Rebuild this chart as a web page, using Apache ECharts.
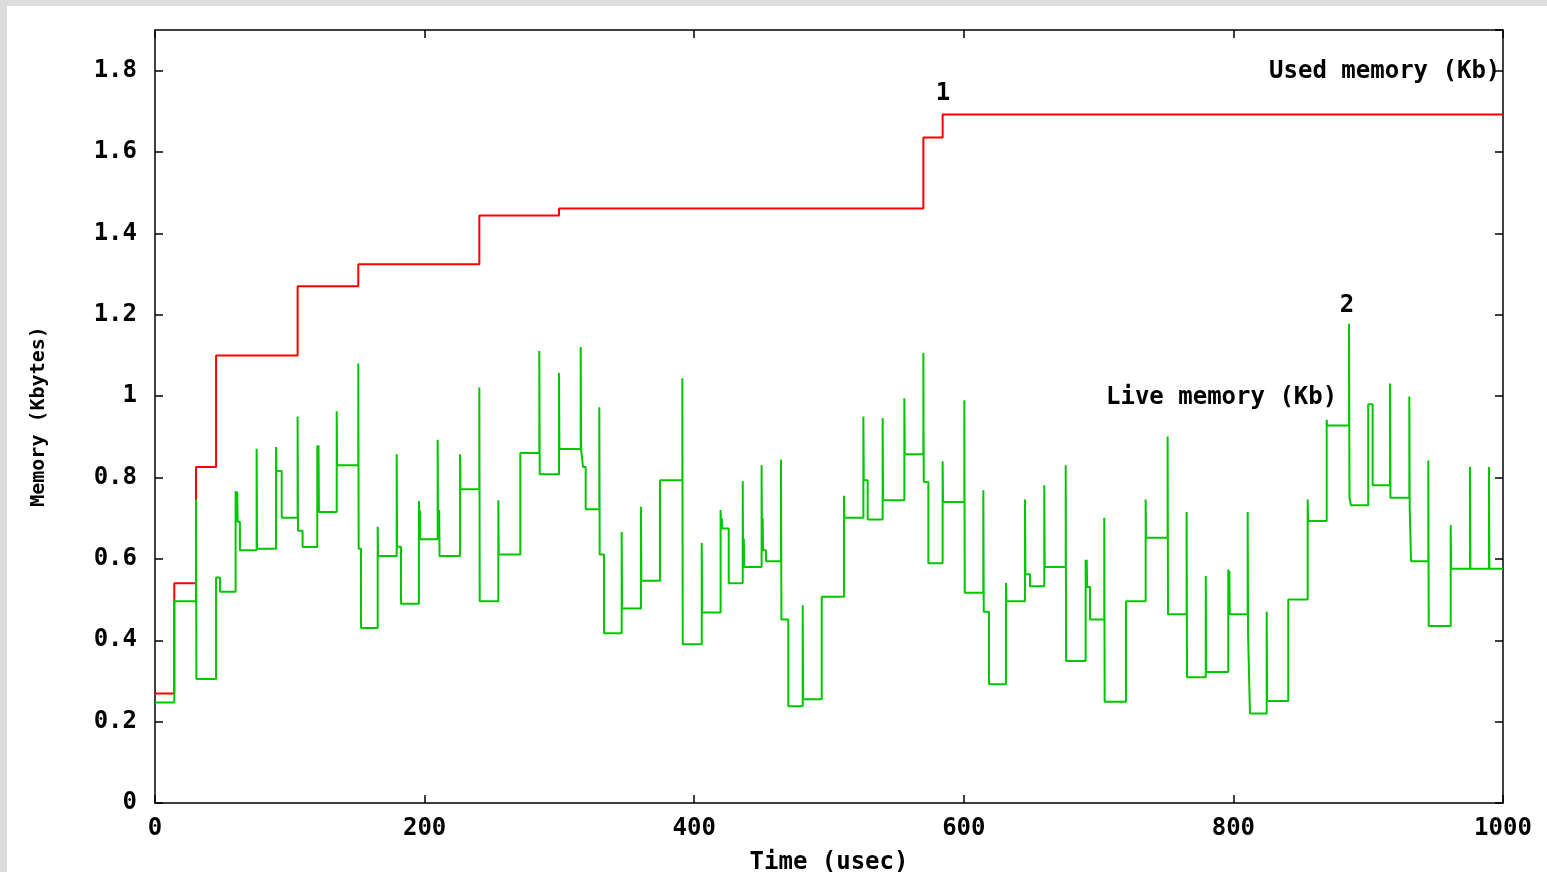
<!DOCTYPE html>
<html>
<head>
<meta charset="utf-8">
<script src="https://cdn.jsdelivr.net/npm/echarts@6/dist/echarts.min.js"></script>
<style>
	html, body { margin: 0; padding: 0; background: #dcdcdc; }
	#wrap { position: absolute; left: 7px; top: 6px; width: 1540px; height: 866px; background: #fff; }
	#main { width: 1540px; height: 866px; }
</style>
</head>
<body>
<div id="wrap"><div id="main"></div></div>
<script>
// used memory (red step line)
var usedTime = [0, 14.3, 30.4, 45.3, 105.8, 150.8, 240.6, 299.7, 570, 584.3, 1000];
var usedMem = [0.269, 0.540, 0.826, 1.100, 1.270, 1.324, 1.444, 1.461, 1.636, 1.692, 1.692];

// live memory (green step line)
var liveTime = [0, 14.3, 30.4, 30.7, 45.3, 48.2, 59.8, 60.1, 61.0, 61.3, 63, 75.4, 75.7, 89.8, 90.1, 94,
	105.8, 106.1, 109.5, 120.4, 120.7, 121.3, 121.6, 134.8, 135.1, 150.8, 151.1, 152.8, 165.2, 165.5,
	179.3, 179.6, 182.5, 195.8, 196.1, 196.5, 196.8, 209.7, 210.0, 210.8, 211.1, 226.3, 226.6,
	240.6, 240.9, 254.7, 255.0, 271, 285.1, 285.4, 299.7, 300.0, 315.8, 316.1, 317.5, 319.5,
	329.6, 329.9, 333.1, 346.2, 346.5, 360.5, 360.8, 374.6, 391.2, 391.5, 405.6, 405.9,
	419.6, 419.9, 420.5, 420.8, 425.6, 436, 436.3, 436.8, 437.1, 450, 450.3, 450.8, 451.1, 453.3,
	464.4, 464.7, 469.8, 480.5, 480.8, 494.6, 511.1, 511.4, 525.5, 525.8, 528.7, 539.8, 540.1,
	555.9, 556.2, 570, 570.3, 573.7, 584.3, 584.6, 600.4, 600.7, 614.5, 614.8, 618.7, 631.3, 631.6,
	645.4, 645.7, 649.1, 659.7, 660.0, 675.6, 675.9, 690.4, 690.7, 691.2, 691.5, 693.6, 704.2, 704.5,
	720.3, 734.9, 735.2, 751.2, 751.5, 765.3, 765.6, 779.5, 779.8, 796.2, 796.5, 797.0, 797.3,
	810.6, 810.9, 812.3, 824.7, 825.0, 840.7, 855.1, 855.4, 869.2, 869.5, 885.8, 886.1, 887.2,
	900, 903.3, 916.2, 916.5, 930.5, 930.8, 931.8, 944.6, 944.9, 961.2, 961.5, 975.5, 975.8,
	989.6, 989.9, 1000];
var liveMem = [0.247, 0.496, 0.746, 0.305, 0.554, 0.519, 0.767, 0.691, 0.765, 0.691, 0.621, 0.871, 0.625, 0.875, 0.816, 0.701,
	0.950, 0.669, 0.629, 0.879, 0.715, 0.879, 0.715, 0.963, 0.830, 1.080, 0.625, 0.430, 0.679, 0.607,
	0.857, 0.630, 0.490, 0.742, 0.648, 0.720, 0.648, 0.893, 0.648, 0.720, 0.607, 0.857, 0.771,
	1.021, 0.496, 0.744, 0.611, 0.860, 1.111, 0.808, 1.057, 0.870, 1.121, 0.870, 0.826, 0.722,
	0.973, 0.611, 0.417, 0.666, 0.478, 0.728, 0.546, 0.793, 1.044, 0.390, 0.639, 0.468,
	0.720, 0.675, 0.700, 0.675, 0.540, 0.791, 0.580, 0.650, 0.580, 0.830, 0.621, 0.700, 0.621, 0.594,
	0.844, 0.451, 0.238, 0.486, 0.255, 0.507, 0.755, 0.701, 0.950, 0.793, 0.697, 0.946, 0.744,
	0.995, 0.857, 1.106, 0.789, 0.589, 0.840, 0.740, 0.990, 0.517, 0.769, 0.470, 0.292, 0.541, 0.496,
	0.746, 0.562, 0.533, 0.781, 0.580, 0.830, 0.349, 0.598, 0.531, 0.598, 0.531, 0.451, 0.701, 0.249,
	0.496, 0.746, 0.652, 0.901, 0.464, 0.715, 0.309, 0.558, 0.322, 0.574, 0.464, 0.570, 0.464,
	0.715, 0.413, 0.220, 0.470, 0.251, 0.500, 0.746, 0.693, 0.942, 0.928, 1.178, 0.751, 0.732,
	0.980, 0.781, 1.031, 0.750, 0.999, 0.724, 0.594, 0.842, 0.435, 0.683, 0.576, 0.826, 0.576,
	0.826, 0.576, 0.576];

// text notes placed in data coordinates
var noteText = ['Used memory (Kb)', 'Live memory (Kb)', '1', '2'];
var noteX = [998, 877, 584.6, 884.3];
var noteY = [1.798, 0.997, 1.744, 1.223];
var noteAlign = ['right', 'right', 'center', 'center'];

var font = 'DejaVu Sans Mono';

function pairs(xs, ys) {
	var out = [];
	for (var i = 0; i < xs.length; i++) out.push([xs[i], ys[i]]);
	return out;
}

var notes = [];
for (var i = 0; i < noteText.length; i++) {
	notes.push({
		value: [noteX[i], noteY[i]],
		label: { show: true, formatter: noteText[i], align: noteAlign[i] }
	});
}

var myChart = echarts.init(document.getElementById('main'));

var axisLine = { show: true, onZero: false, lineStyle: { color: '#000', width: 1.5 } };
var tickIn = { show: true, inside: true, length: 8, lineStyle: { color: '#000', width: 1.5 } };
var labelFont = { fontFamily: font, fontWeight: 'bold', fontSize: 24, color: '#000' };

var option = {
	animation: false,
	backgroundColor: '#fff',
	grid: { left: 148, right: 44, top: 24, bottom: 69, outerBoundsMode: 'none', containLabel: false },
	xAxis: [{
		type: 'value', min: 0, max: 1000, interval: 200,
		position: 'bottom',
		name: 'Time (usec)', nameLocation: 'middle', nameGap: 48,
		nameTextStyle: { fontFamily: font, fontWeight: 'bold', fontSize: 24, color: '#000' },
		axisLine: axisLine, axisTick: tickIn,
		axisLabel: Object.assign({ margin: 14, formatter: function(v) { return String(v); } }, labelFont),
		splitLine: { show: false }
	}, {
		type: 'value', min: 0, max: 1000, interval: 200,
		position: 'top',
		axisLine: axisLine, axisTick: tickIn,
		axisLabel: { show: false },
		splitLine: { show: false }
	}],
	yAxis: [{
		type: 'value', min: 0, max: 1.9, interval: 0.2,
		name: 'Memory (Kbytes)', nameLocation: 'middle', nameGap: 106,
		nameTextStyle: { fontFamily: font, fontWeight: 'bold', fontSize: 20, color: '#000' },
		axisLine: axisLine, axisTick: tickIn,
		axisLabel: Object.assign({
			margin: 18,
			showMaxLabel: false,
			formatter: function(v) { return String(Math.round(v * 10) / 10); }
		}, labelFont),
		splitLine: { show: false }
	}, {
		type: 'value', min: 0, max: 1.9, interval: 0.2,
		position: 'right',
		axisLine: axisLine, axisTick: tickIn,
		axisLabel: { show: false },
		splitLine: { show: false }
	}],
	series: [{
		name: 'Used memory (Kb)',
		type: 'line',
		step: 'end',
		showSymbol: false,
		data: pairs(usedTime, usedMem),
		lineStyle: { color: '#ff0000', width: 2 },
		z: 2
	}, {
		name: 'Live memory (Kb)',
		type: 'line',
		step: 'end',
		showSymbol: false,
		data: pairs(liveTime, liveMem),
		lineStyle: { color: '#00c800', width: 2 },
		z: 3
	}, {
		name: 'notes',
		type: 'scatter',
		symbolSize: 0,
		itemStyle: { opacity: 1 },
		data: notes,
		label: {
			show: true, position: 'inside',
			fontFamily: font, fontWeight: 'bold', fontSize: 24, color: '#000',
			textBorderWidth: 0
		},
		silent: true,
		z: 4
	}]
};

myChart.setOption(option);
</script>
</body>
</html>
